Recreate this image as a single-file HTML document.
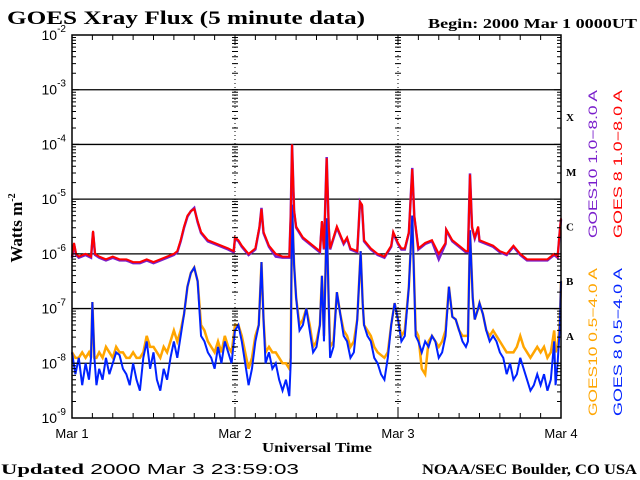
<!DOCTYPE html>
<html><head><meta charset="utf-8"><style>
html,body{margin:0;padding:0;background:#fff;}
svg{display:block;}
.serif{font-family:"Liberation Serif","DejaVu Serif",serif;font-weight:bold;}
.sans{font-family:"Liberation Sans","DejaVu Sans",sans-serif;}
</style></head><body>
<svg id="chart" width="640" height="480" viewBox="0 0 640 480">
<text class="serif" x="7" y="24" font-size="19" textLength="358" lengthAdjust="spacingAndGlyphs">GOES Xray Flux (5 minute data)</text>
<text class="serif" x="428" y="28" font-size="14" textLength="209" lengthAdjust="spacingAndGlyphs">Begin:  2000 Mar 1 0000UT</text>
<text x="1" y="474" font-size="15" textLength="298" lengthAdjust="spacingAndGlyphs"><tspan class="serif" font-weight="normal">Updated</tspan><tspan class="sans"> 2000 Mar  3 23:59:03</tspan></text>
<text class="serif" x="422" y="474" font-size="15" textLength="215" lengthAdjust="spacingAndGlyphs">NOAA/SEC Boulder, CO USA</text>
<text class="serif" x="262" y="452" font-size="14" textLength="110" lengthAdjust="spacingAndGlyphs">Universal Time</text>
<text class="serif" font-size="17" transform="translate(22,228) rotate(-90)" text-anchor="middle">Watts m<tspan font-size="10" dy="-7">-2</tspan></text>
<g id="grid"></g>
<g id="series"></g>
<g id="axes"></g>
<g class="sans" font-size="12">
<text transform="translate(597,238) rotate(-90)" fill="#7a1fcc" textLength="148" lengthAdjust="spacingAndGlyphs">GOES10 1.0−8.0 A</text>
<text transform="translate(622,238) rotate(-90)" fill="#ff0000" textLength="148" lengthAdjust="spacingAndGlyphs">GOES 8 1.0−8.0 A</text>
<text transform="translate(597,416) rotate(-90)" fill="#ffa500" textLength="148" lengthAdjust="spacingAndGlyphs">GOES10 0.5−4.0 A</text>
<text transform="translate(622,416) rotate(-90)" fill="#0022ff" textLength="148" lengthAdjust="spacingAndGlyphs">GOES 8 0.5−4.0 A</text>
</g>
</svg>
<script>
const yDecades=[-2,-3,-4,-5,-6,-7,-8,-9];
const xDayLabels=["Mar 1","Mar 2","Mar 3","Mar 4"];
const flareClasses=["X","M","C","B","A"];
const redT=[0,0.3,0.6,1,2,2.8,3.1,3.4,4,5,6,7,8,9,10,11,12,13,14,15,15.5,16,16.5,17,17.5,18,18.5,19,20,21,22,23,23.8,24,24.5,25,26,27,27.6,27.9,28.2,29,30,31,31.5,32,32.2,32.4,32.7,33,34,35,36,36.5,36.8,37.1,37.5,37.8,38,39,40,40.5,41,42,42.2,42.4,42.7,43,44,45,46,47,47.3,48,48.5,49,49.6,50.1,50.4,51,52,53,54,55,55.1,56,57,58,58.3,58.6,58.9,59.3,59.8,60,61,62,63,64,65,66,67,68,69,70,71,71.5,71.8,72];
const redV=[-6.05,-5.8,-6.0,-6.05,-6.0,-6.05,-5.58,-6.0,-6.05,-6.1,-6.05,-6.1,-6.1,-6.15,-6.15,-6.1,-6.15,-6.1,-6.05,-6.0,-5.95,-5.75,-5.5,-5.3,-5.22,-5.18,-5.4,-5.6,-5.75,-5.8,-5.85,-5.9,-5.95,-5.7,-5.75,-5.85,-6.0,-5.9,-5.5,-5.18,-5.6,-5.85,-6.0,-6.05,-6.05,-6.05,-5.3,-4.0,-5.2,-5.5,-5.7,-5.8,-5.9,-5.95,-5.4,-5.9,-4.25,-5.5,-5.9,-5.5,-5.8,-5.7,-5.9,-5.95,-5.5,-5.05,-5.1,-5.75,-5.9,-6.0,-6.05,-5.85,-5.6,-5.8,-5.9,-5.9,-5.6,-4.45,-5.3,-5.9,-5.8,-5.75,-6.0,-5.8,-5.55,-5.75,-5.85,-5.95,-5.95,-4.55,-5.5,-5.7,-5.5,-5.75,-5.8,-5.85,-5.95,-6.0,-5.85,-6.0,-6.1,-6.1,-6.1,-6.1,-6.0,-6.05,-5.6,-5.35];
const purpleV=[-6.07,-5.82,-6.02,-6.07,-6.02,-6.07,-5.6,-6.02,-6.07,-6.12,-6.07,-6.12,-6.12,-6.17,-6.17,-6.12,-6.17,-6.12,-6.07,-6.02,-5.97,-5.77,-5.52,-5.32,-5.22,-5.16,-5.42,-5.62,-5.77,-5.82,-5.87,-5.92,-5.97,-5.72,-5.77,-5.87,-6.02,-5.92,-5.52,-5.16,-5.62,-5.87,-6.05,-6.07,-6.07,-6.07,-5.32,-4.0,-5.22,-5.52,-5.72,-5.82,-5.92,-5.97,-5.42,-5.92,-4.23,-5.52,-5.92,-5.52,-5.82,-5.72,-5.92,-5.97,-5.52,-5.05,-5.12,-5.77,-5.92,-6.02,-6.07,-5.87,-5.62,-5.82,-5.92,-5.92,-5.62,-4.43,-5.32,-5.92,-5.82,-5.77,-6.1,-5.82,-5.57,-5.77,-5.87,-5.97,-5.97,-4.53,-5.52,-5.72,-5.52,-5.77,-5.82,-5.87,-5.97,-6.02,-5.87,-6.02,-6.12,-6.12,-6.12,-6.12,-6.02,-6.07,-5.62,-5.37];
const blueT=[0,0.5,1,1.5,2,2.5,2.8,3,3.3,3.6,4,4.5,5,5.5,6,6.5,7,7.5,8,8.5,9,9.5,10,10.5,11,11.5,12,12.5,13,13.5,14,14.5,15,15.5,16,16.5,17,17.5,18,18.5,19,19.5,20,20.5,21,21.5,22,22.5,23,23.5,24,24.5,25,25.5,26,26.5,27,27.5,27.9,28.2,28.5,29,29.5,30,30.5,31,31.5,32,32.2,32.4,32.7,33,33.5,34,34.5,35,35.5,36,36.5,36.8,37.1,37.5,37.8,38,38.5,39,39.5,40,40.5,41,41.5,42,42.5,42.8,43,43.5,44,44.5,45,45.5,46,46.5,47,47.5,48,48.5,49,49.6,50.1,50.6,51,51.5,52,52.5,53,53.5,54,54.5,55,55.5,56,56.5,57,57.5,58,58.3,58.6,59,59.3,59.8,60,60.5,61,61.5,62,62.5,63,63.5,64,64.5,65,65.5,66,66.5,67,67.5,68,68.5,69,69.5,70,70.5,71,71.2,71.5,71.8,72];
const blueV=[-7.8,-8.2,-7.9,-8.4,-8.0,-8.3,-7.9,-6.88,-7.9,-8.4,-8.1,-8.3,-7.9,-8.2,-8.0,-7.8,-7.85,-8.1,-8.2,-8.4,-8.0,-8.3,-8.5,-7.9,-7.6,-8.1,-7.8,-8.3,-8.5,-8.1,-8.3,-7.9,-7.6,-7.9,-7.5,-7.1,-6.6,-6.35,-6.25,-6.5,-7.5,-7.6,-7.8,-7.9,-8.1,-7.7,-8.0,-7.6,-7.8,-8.0,-7.4,-7.3,-7.6,-8.0,-8.4,-8.1,-7.6,-7.3,-6.15,-7.2,-8.0,-7.8,-8.1,-8.0,-8.3,-8.5,-8.3,-8.6,-8.0,-5.1,-6.2,-6.8,-7.4,-7.3,-7.0,-7.4,-7.8,-7.7,-7.3,-6.4,-7.6,-5.35,-6.9,-7.9,-7.7,-6.7,-7.1,-7.5,-7.6,-7.9,-7.8,-7.2,-5.95,-6.9,-7.3,-7.5,-7.6,-7.9,-8.0,-8.2,-8.3,-7.9,-7.3,-6.9,-7.2,-7.6,-7.5,-6.6,-5.3,-7.5,-7.6,-7.8,-7.6,-7.7,-7.5,-7.6,-7.9,-7.8,-7.5,-6.6,-7.15,-7.2,-7.4,-7.6,-7.7,-7.6,-5.57,-6.8,-7.2,-7.0,-6.9,-7.1,-7.4,-7.6,-7.5,-7.6,-7.8,-7.9,-8.2,-8.0,-8.3,-8.2,-7.9,-8.1,-8.3,-8.5,-8.4,-8.2,-8.4,-8.2,-8.5,-8.3,-7.6,-8.4,-8.0,-7.4,-6.5];
const orangeV=[-7.8,-7.9,-7.9,-7.8,-7.9,-7.8,-7.9,-6.88,-7.9,-7.9,-7.8,-7.9,-7.7,-7.8,-7.9,-7.7,-7.8,-7.8,-7.9,-7.9,-7.8,-7.9,-7.9,-7.8,-7.5,-7.7,-7.7,-7.8,-7.9,-7.7,-7.8,-7.6,-7.4,-7.6,-7.4,-7.1,-6.6,-6.35,-6.25,-6.5,-7.3,-7.4,-7.6,-7.7,-7.8,-7.6,-7.8,-7.5,-7.7,-7.8,-7.3,-7.3,-7.5,-7.8,-8.1,-7.9,-7.5,-7.3,-6.15,-7.2,-7.8,-7.7,-7.8,-7.8,-7.9,-8.0,-8.0,-8.1,-7.9,-5.1,-6.2,-6.8,-7.3,-7.2,-7.0,-7.3,-7.7,-7.6,-7.3,-6.4,-7.5,-5.35,-6.9,-7.7,-7.6,-6.7,-7.1,-7.4,-7.5,-7.7,-7.6,-7.2,-5.95,-6.9,-7.3,-7.4,-7.5,-7.7,-7.8,-7.85,-7.9,-7.8,-7.3,-6.9,-7.2,-7.5,-7.4,-6.6,-5.3,-7.4,-7.5,-8.1,-8.2,-7.6,-7.5,-7.6,-7.7,-7.6,-7.4,-6.6,-7.15,-7.2,-7.4,-7.5,-7.5,-7.5,-5.57,-6.8,-7.2,-7.0,-6.9,-7.1,-7.4,-7.5,-7.4,-7.5,-7.6,-7.7,-7.8,-7.8,-7.8,-7.7,-7.5,-7.7,-7.8,-7.9,-7.8,-7.7,-7.8,-7.7,-7.9,-7.8,-7.4,-7.8,-7.7,-7.3,-6.5];

const X0=72,X1=561,Y0=35,Y1=418;
const NS="http://www.w3.org/2000/svg";
function xs(h){return X0+h*(X1-X0)/72;}
function ys(l){return Y0+(-2-l)*(Y1-Y0)/7;}
function mk(tag,attrs,parent){const e=document.createElementNS(NS,tag);for(const k in attrs)e.setAttribute(k,attrs[k]);parent.appendChild(e);return e;}
const grid=document.getElementById('grid'),axes=document.getElementById('axes'),series=document.getElementById('series');
yDecades.forEach(function(d){
  const y=ys(d);
  if(d<-2&&d>-9){const l=mk('line',{x1:X0,x2:X1,y1:y,y2:y,stroke:'#000','stroke-width':1.3},grid);
  
  }
  const t=mk('text',{x:X0-6,y:y+5,'text-anchor':'end','font-size':14,'class':'sans'},axes);
  
  
  t.innerHTML='10<tspan font-size="10" dy="-8">'+d+'</tspan>';
});
let tk='';
[X0,xs(24),xs(48),X1].forEach(function(x,i){
  for(let d=-9;d<-2;d++){for(let m=1;m<=9;m++){const y=ys(d+Math.log10(m));const len=(m===1)?7:4;
    if(i===0)tk+='M'+x+' '+y+'h'+len;
    else if(i===3)tk+='M'+x+' '+y+'h-'+len;
    else tk+='M'+(x-3)+' '+y+'h6';}}
});
for(let h=3;h<72;h+=3){const x=xs(h);const len=(h%24===0)?10:5;tk+='M'+x+' '+Y1+'v-'+len+'M'+x+' '+Y0+'v'+len;}
const tp=mk('path',{d:tk,stroke:'#000','stroke-width':1,fill:'none'},axes);


[24,48].forEach(function(h){const l=mk('line',{x1:xs(h),x2:xs(h),y1:Y0,y2:Y1,stroke:'#000','stroke-width':1,'stroke-dasharray':'1 3'},grid);
  
  });
const fr=mk('rect',{x:X0,y:Y0,width:X1-X0,height:Y1-Y0,fill:'none',stroke:'#000','stroke-width':1.5},axes);


xDayLabels.forEach(function(s,i){const t=mk('text',{x:xs(i*24),y:438,'text-anchor':'middle','font-size':13,'class':'sans'},axes);
  
  
  t.textContent=s;});
flareClasses.forEach(function(c,i){const t=mk('text',{x:566,y:ys(-3.5-i)+4,'font-size':11,'class':'serif'},axes);
  
  
  t.textContent=c;});
function line(T,V,color,name,w){let d='';const n=Math.min(T.length,V.length);for(let i=0;i<n;i++){const x=xs(T[i]),y=ys(V[i]);d+=(i?'L':'M')+x+' '+y;}
  const p=mk('path',{d:d,stroke:color,'stroke-width':w,fill:'none','stroke-linejoin':'miter'},series);
  
  }
line(blueT,orangeV,'#ffa500','series-goes10-short',2.5);
line(blueT,blueV,'#0022ff','series-goes8-short',2);
line(redT,purpleV,'#7a1fcc','series-goes10-long',2.5);
line(redT,redV,'#ff0000','series-goes8-long',2);
</script>
</body></html>
